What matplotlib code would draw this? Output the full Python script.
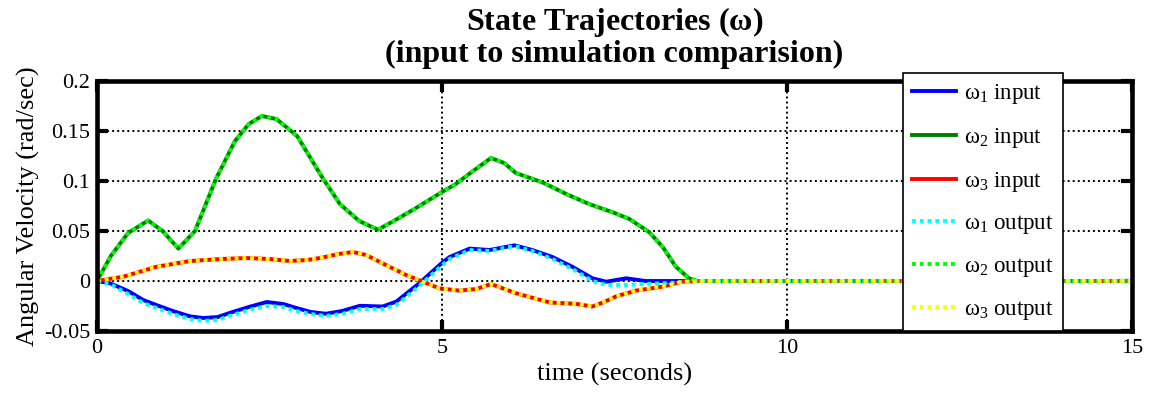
import matplotlib
matplotlib.use("Agg")
import matplotlib.pyplot as plt

# ---------------- data ----------------
t_w1 = [0, 0.19, 0.45, 0.67, 0.86, 1.1, 1.35, 1.54, 1.75, 1.92, 2.2, 2.46, 2.7, 2.89,
        3.1, 3.32, 3.55, 3.81, 4.14, 4.34, 4.67, 4.99, 5.11, 5.40, 5.69, 6.05, 6.31,
        6.60, 6.89, 7.18, 7.38, 7.67, 7.95, 15]
w1_in = [0, -0.0023, -0.010, -0.019, -0.024, -0.030, -0.0354, -0.037, -0.036, -0.032,
         -0.026, -0.021, -0.023, -0.027, -0.031, -0.0327, -0.030, -0.0248, -0.0255,
         -0.0205, -0.0023, 0.0176, 0.024, 0.0324, 0.031, 0.0357, 0.031, 0.024, 0.0142,
         0.0027, -0.0007, 0.0027, 0, 0]

t_w1_out = [0, 0.19, 0.45, 0.67, 0.86, 1.1, 1.35, 1.54, 1.75, 1.92, 2.2, 2.46, 2.7, 2.89,
            3.1, 3.32, 3.55, 3.81, 4.14, 4.34, 4.67, 4.99, 5.11, 5.40, 5.69, 6.05, 6.31,
            6.60, 6.89, 7.18, 7.38, 7.67, 7.95, 8.3, 8.7, 15]
w1_out = [0, -0.003, -0.013, -0.022, -0.027, -0.033, -0.038, -0.040, -0.039, -0.035,
          -0.029, -0.025, -0.026, -0.030, -0.033, -0.035, -0.033, -0.028, -0.028,
          -0.024, -0.005, 0.015, 0.022, 0.031, 0.030, 0.035, 0.030, 0.022, 0.012,
          0.0, -0.004, -0.004, -0.003, -0.002, 0, 0]

t_w2 = [0, 0.2, 0.45, 0.74, 0.95, 1.18, 1.42, 1.73, 2.0, 2.2, 2.39, 2.6, 2.9, 3.27,
        3.52, 3.8, 4.07, 4.3, 4.6, 4.99, 5.2, 5.45, 5.71, 5.9, 6.07, 6.46, 6.8, 7.13,
        7.47, 7.71, 8.0, 8.2, 8.39, 8.58, 8.7, 15]
w2_in = [0, 0.025, 0.048, 0.0605, 0.050, 0.0324, 0.050, 0.103, 0.140, 0.157, 0.165,
         0.162, 0.145, 0.103, 0.077, 0.060, 0.0513, 0.060, 0.072, 0.0886, 0.097, 0.110,
         0.123, 0.118, 0.108, 0.0985, 0.087, 0.077, 0.0688, 0.0622, 0.049, 0.034,
         0.0142, 0.0027, 0, 0]
w2_out = list(w2_in)

t_w3 = [0, 0.38, 0.86, 1.35, 1.8, 2.17, 2.5, 2.79, 3.05, 3.27, 3.5, 3.71, 3.9, 4.10,
        4.48, 4.96, 5.25, 5.5, 5.71, 6.07, 6.56, 6.94, 7.18, 7.35, 7.52, 7.81, 8.20,
        8.48, 8.7, 15]
w3_in = [0, 0.0043, 0.0142, 0.020, 0.022, 0.023, 0.022, 0.020, 0.021, 0.0235, 0.027,
         0.029, 0.026, 0.019, 0.006, -0.0073, -0.0096, -0.008, -0.003, -0.0122, -0.0215,
         -0.0228, -0.0255, -0.021, -0.0155, -0.0096, -0.0056, -0.0007, 0, 0]
w3_out = list(w3_in)

labels = [r"$\omega_1$ input", r"$\omega_2$ input", r"$\omega_3$ input",
          r"$\omega_1$ output", r"$\omega_2$ output", r"$\omega_3$ output"]
x_ticks = [0, 5, 10, 15]
y_ticks = [-0.05, 0, 0.05, 0.1, 0.15, 0.2]
y_ticklabels = ["-0.05", "0", "0.05", "0.1", "0.15", "0.2"]

# ---------------- style ----------------
plt.rcParams["font.family"] = ["Liberation Serif", "DejaVu Serif"]
plt.rcParams["mathtext.fontset"] = "custom"
plt.rcParams["mathtext.rm"] = "Liberation Serif"
plt.rcParams["mathtext.it"] = "Liberation Serif"
plt.rcParams["mathtext.bf"] = "Liberation Serif:bold"

fig = plt.figure(figsize=(11.51, 3.95), dpi=100)
ax = fig.add_axes([97 / 1151, 1 - 331 / 395, (1132 - 97) / 1151, (331 - 81) / 395])

lw = 2.8
dots = (0, (1, 1))
ax.plot(t_w1, w1_in, color="#0000ff", lw=lw, label=labels[0])
ax.plot(t_w2, w2_in, color="#008000", lw=lw, label=labels[1])
ax.plot(t_w3, w3_in, color="#ff0000", lw=lw, label=labels[2])
ax.plot(t_w1_out, w1_out, color="#00ffff", lw=lw, ls=dots, label=labels[3])
ax.plot(t_w2, w2_out, color="#00ff00", lw=lw, ls=dots, label=labels[4])
ax.plot(t_w3, w3_out, color="#ffff00", lw=lw, ls=dots, label=labels[5])

ax.set_xlim(0, 15)
ax.set_ylim(-0.05, 0.2)
ax.set_xticks(x_ticks)
ax.set_xticklabels([str(v) for v in x_ticks])
ax.set_yticks(y_ticks)
ax.set_yticklabels(y_ticklabels)
ax.tick_params(direction="in", length=8, width=3, labelsize=16,
               top=True, right=True)
ax.tick_params(axis="x", pad=6)
ax.tick_params(axis="y", pad=5)
for s in ax.spines.values():
    s.set_linewidth(3.3)
ax.grid(True, color="black", ls=(0, (1, 1.6)), lw=1.4)

ax.set_xlabel("time (seconds)", fontsize=19, labelpad=3)
ax.set_ylabel("Angular Velocity (rad/sec)", fontsize=19, labelpad=3)
ax.set_title("State Trajectories ($\\mathbf{\\omega}$)\n(input to simulation comparision)",
             fontsize=23, fontweight="bold", pad=14, linespacing=1.0)

leg = ax.legend(loc="upper left", bbox_to_anchor=(903 / 1151, 1 - 73 / 395),
                bbox_transform=fig.transFigure, fontsize=16.5, frameon=True,
                fancybox=False, edgecolor="black", framealpha=1,
                handlelength=1.9, labelspacing=0.86, borderpad=0.4,
                handletextpad=0.35, borderaxespad=0)
leg.get_frame().set_linewidth(1.2)
leg.set_zorder(10)

fig.savefig("out.png", dpi=100)
